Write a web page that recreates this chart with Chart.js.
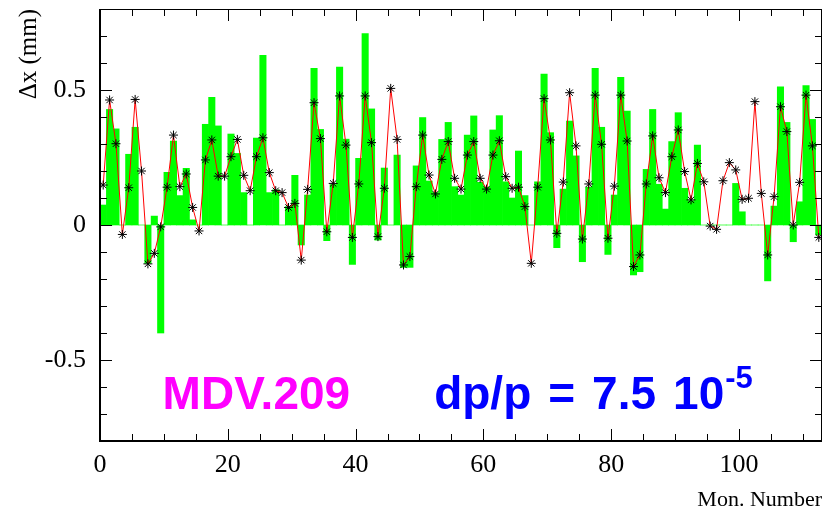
<!DOCTYPE html>
<html>
<head>
<meta charset="utf-8">
<script src="https://cdn.jsdelivr.net/npm/chart.js@4.4.1/dist/chart.umd.min.js"></script>
<style>
  html, body { margin: 0; padding: 0; background: #fff; }
  #wrap { width: 834px; height: 513px; }
</style>
</head>
<body>
<div id="wrap"><canvas id="orbit" width="834" height="513"></canvas></div>
<script>
/* ── DATA ─────────────────────────────────────────────────── */
const monNumber = [
  0, 1, 2, 3, 4, 5, 6, 7, 8, 9, 10, 11, 12, 13, 14, 15, 16, 17, 18, 19,
  20, 21, 22, 23, 24, 25, 26, 27, 28, 29, 30, 31, 32, 33, 34, 35, 36, 37, 38, 39,
  40, 41, 42, 43, 44, 45, 46, 47, 48, 49, 50, 51, 52, 53, 54, 55, 56, 57, 58, 59,
  60, 61, 62, 63, 64, 65, 66, 67, 68, 69, 70, 71, 72, 73, 74, 75, 76, 77, 78, 79,
  80, 81, 82, 83, 84, 85, 86, 87, 88, 89, 90, 91, 92, 93, 94, 95, 96, 97, 98, 99,
  100, 101, 102, 103, 104, 105, 106, 107, 108, 109, 110, 111, 112
];

// green histogram (mm)
const dxBars = [
  0.074, 0.428, 0.356, 0.000, 0.262, 0.362, 0.000, -0.142, 0.033, -0.400,
  0.195, 0.311, 0.109, 0.210, 0.019, 0.000, 0.373, 0.473, 0.367, 0.000,
  0.337, 0.265, 0.120, 0.000, 0.322, 0.628, 0.120, 0.130, 0.000, 0.068,
  0.184, -0.074, 0.111, 0.580, 0.354, -0.058, 0.150, 0.585, 0.318, -0.146,
  0.247, 0.709, 0.430, -0.056, 0.211, 0.000, 0.259, -0.157, -0.157, 0.219,
  0.398, 0.163, 0.120, 0.317, 0.380, 0.142, 0.111, 0.333, 0.404, 0.158,
  0.140, 0.352, 0.405, 0.160, 0.100, 0.274, 0.109, 0.000, 0.160, 0.559,
  0.342, -0.084, 0.133, 0.385, 0.256, -0.136, 0.140, 0.580, 0.362, -0.109,
  0.111, 0.547, 0.422, -0.185, -0.173, 0.206, 0.428, 0.151, 0.059, 0.309,
  0.416, 0.136, 0.090, 0.296, 0.000, 0.000, 0.000, 0.000, 0.000, 0.154,
  0.049, 0.000, 0.000, 0.000, -0.207, 0.070, 0.512, 0.380, -0.062, 0.086,
  0.516, 0.391, -0.037
];

// red line with star markers (mm)
const dxPoints = [
  0.148, 0.463, 0.301, -0.035, 0.138, 0.465, 0.200, -0.144, -0.105, -0.007,
  0.140, 0.333, 0.142, 0.189, 0.065, -0.022, 0.241, 0.315, 0.181, 0.181,
  0.253, 0.317, 0.184, 0.127, 0.253, 0.323, 0.194, 0.127, 0.120, 0.065,
  0.080, -0.130, 0.132, 0.453, 0.320, -0.025, 0.154, 0.478, 0.296, -0.046,
  0.152, 0.478, 0.305, -0.043, 0.136, 0.506, 0.317, -0.148, -0.117, 0.142,
  0.333, 0.185, 0.115, 0.243, 0.309, 0.173, 0.133, 0.259, 0.309, 0.173,
  0.133, 0.259, 0.312, 0.179, 0.136, 0.140, 0.068, -0.142, 0.140, 0.468,
  0.315, -0.031, 0.159, 0.490, 0.293, -0.052, 0.152, 0.481, 0.299, -0.049,
  0.144, 0.481, 0.311, -0.154, -0.111, 0.152, 0.330, 0.175, 0.120, 0.253,
  0.352, 0.198, 0.093, 0.228, 0.160, -0.004, -0.016, 0.164, 0.231, 0.204,
  0.095, 0.099, 0.457, 0.117, -0.111, 0.105, 0.438, 0.346, 0.000, 0.158,
  0.481, 0.293, -0.046
];

const xTickVals   = [0, 20, 40, 60, 80, 100];
const xTickLabels = ['0', '20', '40', '60', '80', '100'];
const yTickVals   = [-0.5, 0, 0.5];
const yTickLabels = ['-0.5', '0', '0.5'];

/* ── STYLE ────────────────────────────────────────────────── */
const serif = "'Liberation Serif', 'Times New Roman', serif";
const sans  = "'Liberation Sans', Arial, sans-serif";

/* ── FRAME + INWARD TICKS (ROOT style) ────────────────────── */
const axisFrame = {
  id: 'axisFrame',
  afterDatasetsDraw(chart) {
    const { ctx, chartArea: a, scales: { x, y } } = chart;
    ctx.save();
    ctx.strokeStyle = '#000';
    ctx.lineWidth = 1;
    ctx.beginPath();
    for (let v = 0; v <= x.max; v += 5) {
      const px = Math.round(x.getPixelForValue(v)) + 0.5;
      const len = v % 20 === 0 ? 12 : 7;
      ctx.moveTo(px, a.bottom); ctx.lineTo(px, a.bottom - len);
      ctx.moveTo(px, a.top);    ctx.lineTo(px, a.top + len);
    }
    for (let k = -8; k <= 8; k++) {
      const py = Math.round(y.getPixelForValue(k / 10)) + 0.5;
      const len = k % 5 === 0 ? 12 : 7;
      ctx.moveTo(a.left, py);  ctx.lineTo(a.left + len, py);
      ctx.moveTo(a.right, py); ctx.lineTo(a.right - len, py);
    }
    // thin top and right edges
    ctx.moveTo(a.left, a.top + 0.5);  ctx.lineTo(a.right, a.top + 0.5);
    ctx.moveTo(a.right - 0.5, a.top); ctx.lineTo(a.right - 0.5, a.bottom);
    ctx.stroke();
    // heavier left and bottom axes
    ctx.lineWidth = 2;
    ctx.beginPath();
    ctx.moveTo(a.left, a.top); ctx.lineTo(a.left, a.bottom); ctx.lineTo(a.right, a.bottom);
    ctx.stroke();
    ctx.restore();
  }
};

/* ── IN-PLOT LABELS ───────────────────────────────────────── */
const plotLabels = {
  id: 'plotLabels',
  afterDraw(chart) {
    const { ctx, scales: { x, y } } = chart;
    const base = y.getPixelForValue(-0.681);
    ctx.save();
    ctx.textBaseline = 'alphabetic';
    ctx.textAlign = 'left';
    ctx.font = `bold 46px ${sans}`;
    ctx.fillStyle = '#ff00ff';
    ctx.fillText('MDV.209', x.getPixelForValue(9.8), base);

    // blue label, drawn word by word with slightly wide spaces
    ctx.fillStyle = '#0000ff';
    const words = ['dp/p', '=', '7.5', '10'];
    const gap = 17;
    let px = x.getPixelForValue(52.3);
    words.forEach((wd, i) => {
      ctx.fillText(wd, px, base);
      px += ctx.measureText(wd).width + (i < words.length - 1 ? gap : 0);
    });
    ctx.font = `bold 31px ${sans}`;
    ctx.fillText('-5', px + 1, base - 21);
    ctx.restore();
  }
};

/* ── CHART ────────────────────────────────────────────────── */
new Chart(document.getElementById('orbit'), {
  type: 'line',
  data: {
    datasets: [
      {
        type: 'line',
        label: 'dx',
        data: monNumber.map((m, i) => ({ x: m + 0.5, y: dxPoints[i] })),
        borderColor: '#ff0000',
        borderWidth: 1,
        tension: 0,
        pointStyle: 'star',
        pointRadius: 4.5,
        pointBorderColor: '#000',
        pointBackgroundColor: '#000',
        pointBorderWidth: 1,
        order: 1
      },
      {
        type: 'bar',
        label: 'dx hist',
        data: monNumber.map((m, i) => ({ x: m + 0.5, y: dxBars[i] })),
        backgroundColor: '#00ff00',
        borderWidth: 0,
        barPercentage: 1,
        categoryPercentage: 1,
        order: 2
      }
    ]
  },
  options: {
    responsive: false,
    animation: false,
    layout: { padding: { top: 9, right: 12, left: 0, bottom: 0 } },
    plugins: { legend: { display: false }, tooltip: { enabled: false } },
    scales: {
      x: {
        type: 'linear',
        min: 0,
        max: 113,
        offset: false,
        afterBuildTicks: s => { s.ticks = xTickVals.map(v => ({ value: v })); },
        afterFit: s => { s.height = 72; s.paddingLeft = 0; s.paddingRight = 0; },
        grid: { display: false, drawTicks: false },
        border: { display: false },
        ticks: {
          autoSkip: false, maxRotation: 0, padding: 9, color: '#000',
          font: { family: serif, size: 26 },
          callback: (v, i) => xTickLabels[i]
        },
        title: {
          display: true, text: 'Mon. Number', align: 'end', color: '#000',
          font: { family: serif, size: 22 }, padding: { top: 4, bottom: 0 }
        }
      },
      y: {
        type: 'linear',
        min: -0.8,
        max: 0.8,
        afterBuildTicks: s => { s.ticks = yTickVals.map(v => ({ value: v })); },
        afterFit: s => { s.width = 100; s.paddingTop = 0; s.paddingBottom = 0; },
        grid: { display: false, drawTicks: false },
        border: { display: false },
        ticks: {
          padding: 14, color: '#000',
          font: { family: serif, size: 26 },
          callback: (v, i) => yTickLabels[i]
        },
        title: {
          display: true, text: 'Δx (mm)', align: 'end', color: '#000',
          font: { family: serif, size: 25 }, padding: { top: 14, bottom: 0 }
        }
      }
    }
  },
  plugins: [axisFrame, plotLabels]
});
</script>
</body>
</html>
